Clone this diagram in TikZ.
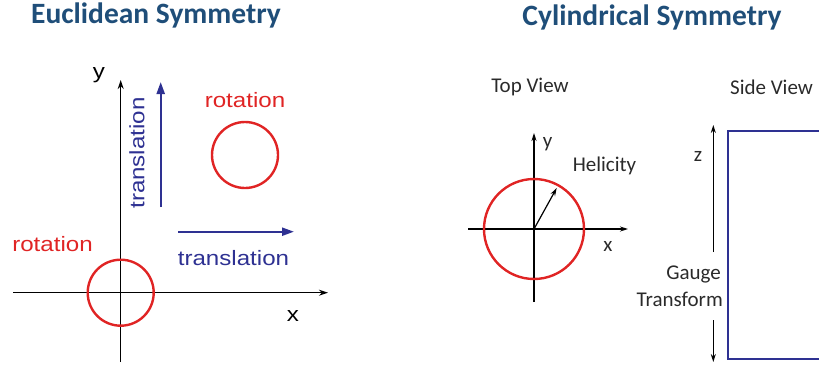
\documentclass[tikz,border=0pt]{standalone}
\usepackage{fontspec}
\setmainfont{Carlito}
\newfontfamily\arialw[FakeStretch=1.16]{Liberation Sans}
\usetikzlibrary{arrows.meta}
\definecolor{titleblue}{HTML}{1F4E79}
\definecolor{rotred}{HTML}{E02424}
\definecolor{navy}{HTML}{2E3192}
\definecolor{txtgray}{HTML}{2A2A2A}
\begin{document}
\begin{tikzpicture}[x=1pt,y=-1pt,
  title/.style={font=\fontsize{29.5}{34}\selectfont\bfseries, text=titleblue, inner sep=0},
  lab/.style={font=\arialw\fontsize{20.8}{24}\selectfont, inner sep=0},
  clab/.style={font=\fontsize{21}{25}\selectfont, text=txtgray, inner sep=0},
  axis/.style={line width=1.4pt, -{Stealth[length=9pt,width=6pt]}},
  thinaxis/.style={line width=1.1pt, -{Stealth[length=8pt,width=5pt]}},
  ring/.style={draw=rotred, line width=2.4pt},
  trans/.style={draw=navy, line width=2.2pt, -{Triangle[length=12pt,width=8pt]}}]
\useasboundingbox (0,0) rectangle (819,367);
% ---------- Euclidean ----------
\node[title] (t1) at (156,15) {Euclidean Symmetry};
\coordinate (yb) at (120.7,362);
\coordinate (yt) at (120.7,80);
\coordinate (xl) at (13,292.7);
\coordinate (xr) at (328,292.7);
\draw[axis] (yb) -- (yt);
\draw[axis] (xl) -- (xr);
\node[lab] (ylab) at (99,75) {y};
\node[lab] (xlab) at (293,316) {x};
\node[ring, circle, minimum size=66pt, inner sep=0] (c1) at (120.7,292.7) {};
\node[ring, circle, minimum size=66pt, inner sep=0] (c2) at (245,155) {};
\node[lab, text=rotred] (r1) at (245,100) {rotation};
\node[lab, text=rotred] (r2) at (52.5,244) {rotation};
\coordinate (va) at (160.7,207);
\coordinate (vb) at (160.7,82);
\draw[trans] (va) -- (vb);
\node[lab, text=navy, rotate=90] (tv) at (137,153) {translation};
\coordinate (ha) at (178,231.7);
\coordinate (hb) at (294,231.7);
\draw[trans] (ha) -- (hb);
\node[lab, text=navy] (th) at (233.5,258) {translation};
% ---------- Cylindrical ----------
\node[title] (t2) at (652,17) {Cylindrical Symmetry};
\node[clab] (tvw) at (530,87) {Top View};
\node[clab] (svw) at (771.5,87) {Side View};
\coordinate (cyb) at (534,302);
\coordinate (cyt) at (534,133);
\coordinate (cxl) at (468,229);
\coordinate (cxr) at (628,229);
\draw[thinaxis] (cyb) -- (cyt);
\draw[thinaxis] (cxl) -- (cxr);
\node[ring, circle, minimum size=100pt, inner sep=0] (c3) at (534,229) {};
\coordinate (hc) at (534,229);
\coordinate (hh) at (556.7,188);
\draw[thinaxis, line width=1.2pt] (hc) -- (hh);
\node[clab] (cy) at (547.5,144) {y};
\node[clab] (cx) at (608,246) {x};
\node[clab] (hel) at (604.5,166) {Helicity};
\coordinate (zt1) at (713.3,252);
\coordinate (zt2) at (713.3,125);
\coordinate (zb1) at (713.3,320);
\coordinate (zb2) at (713.3,362);
\draw[thinaxis] (zt1) -- (zt2);
\draw[thinaxis] (zb1) -- (zb2);
\node[clab] (zl) at (698,156) {z};
\node[clab, anchor=east] (gg) at (721,274) {Gauge};
\node[clab, anchor=east] (gt) at (723,299) {Transform};
\coordinate (rtl) at (727.7,130.7);
\coordinate (rbr) at (830,359);
\draw[navy, line width=2.2pt] (rtl) rectangle (rbr);
\end{tikzpicture}
\end{document}
